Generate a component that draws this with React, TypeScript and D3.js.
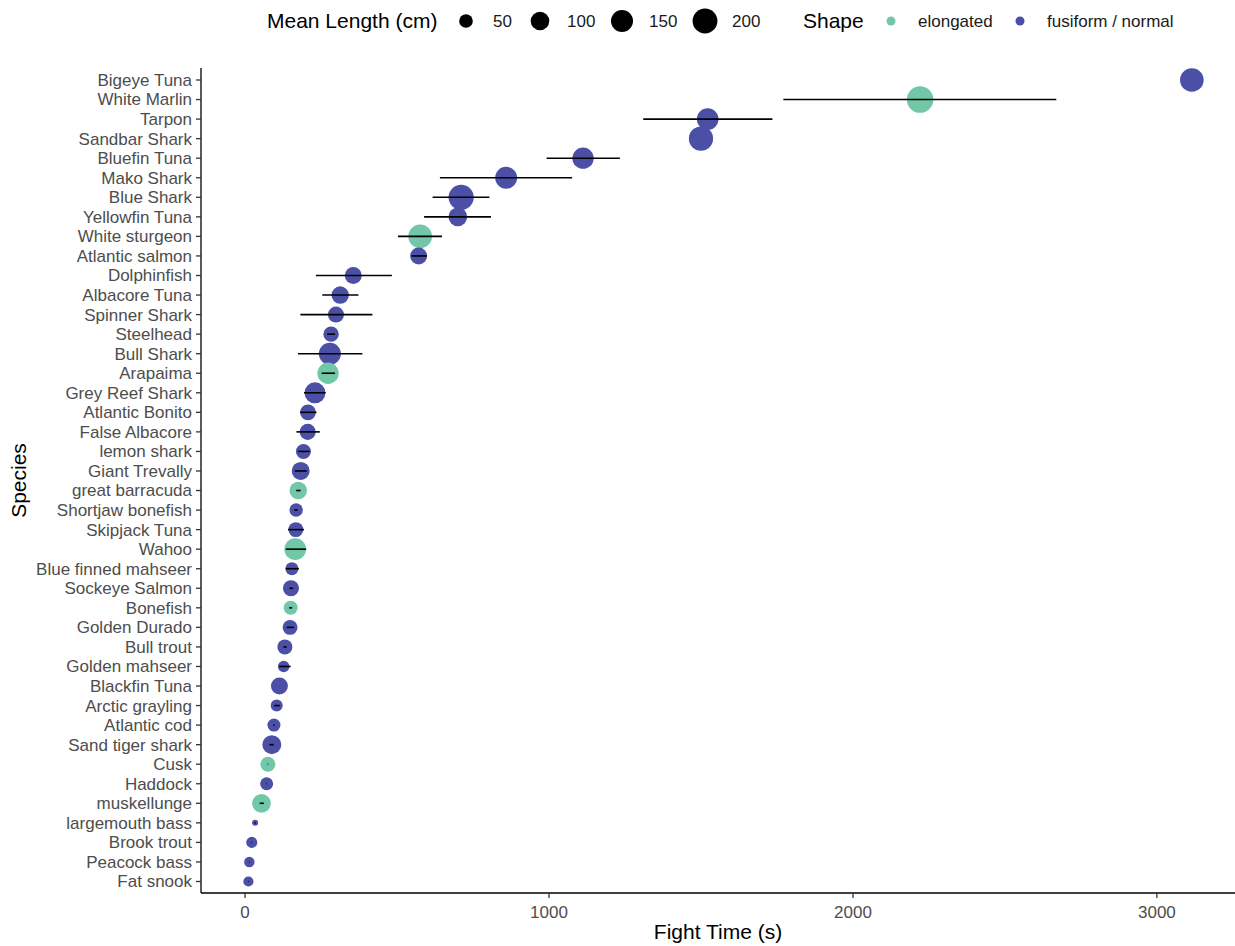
import React from "react";
import * as d3 from "d3";

const species = [
  "Bigeye Tuna", "White Marlin", "Tarpon", "Sandbar Shark", "Bluefin Tuna", "Mako Shark",
  "Blue Shark", "Yellowfin Tuna", "White sturgeon", "Atlantic salmon", "Dolphinfish",
  "Albacore Tuna", "Spinner Shark", "Steelhead", "Bull Shark", "Arapaima", "Grey Reef Shark",
  "Atlantic Bonito", "False Albacore", "lemon shark", "Giant Trevally", "great barracuda",
  "Shortjaw bonefish", "Skipjack Tuna", "Wahoo", "Blue finned mahseer", "Sockeye Salmon",
  "Bonefish", "Golden Durado", "Bull trout", "Golden mahseer", "Blackfin Tuna",
  "Arctic grayling", "Atlantic cod", "Sand tiger shark", "Cusk", "Haddock", "muskellunge",
  "largemouth bass", "Brook trout", "Peacock bass", "Fat snook",
];

const fightTime = [
  3115, 2221, 1522, 1500, 1112, 859, 711, 700, 576, 571, 356, 313, 299, 283, 279, 273, 230,
  207, 206, 192, 183, 175, 168, 167, 165, 154, 151, 150, 148, 131, 127, 113, 104, 95, 88, 75,
  71, 54, 33, 22, 14, 11,
];

const fightLow: (number | null)[] = [
  null, 1771, 1310, null, 992, 641, 617, 589, 503, 548, 233, 254, 182, 270, 174, 252, 194,
  181, 169, 175, 164, 168, 162, 141, 134, 134, 146, 145, 137, 126, 112, null, 96, 93, 80, 74,
  70, 48, 31, 21, 13, 10,
];

const fightHigh: (number | null)[] = [
  null, 2669, 1735, null, 1233, 1076, 804, 809, 648, 598, 483, 373, 419, 296, 386, 296, 265,
  235, 246, 212, 203, 183, 173, 194, 201, 177, 158, 155, 161, 137, 150, null, 114, 97, 94, 76,
  72, 62, 35, 23, 15, 12,
];

const meanLength = [
  178, 235, 145, 189, 139, 148, 207, 102, 178, 81, 81, 86, 71, 65, 150, 139, 133, 69, 71, 61,
  93, 86, 48, 60, 145, 45, 71, 53, 60, 61, 35, 81, 38, 45, 105, 60, 45, 102, 20, 33, 30, 29,
];

const shape = [
  "f", "e", "f", "f", "f", "f", "f", "f", "e", "f", "f", "f", "f", "f", "f", "e", "f", "f",
  "f", "f", "f", "e", "f", "f", "e", "f", "f", "e", "f", "f", "f", "f", "f", "f", "f", "e",
  "f", "e", "f", "f", "f", "f",
];

const xTicks = [0, 1000, 2000, 3000];
const sizeBreaks = [50, 100, 150, 200];
const shapeLabels = ["elongated", "fusiform / normal"];
const shapeKeys = ["e", "f"];

const W = 1235;
const H = 946;
const FONT = "'Liberation Sans', Arial, Helvetica, sans-serif";

export default function App() {
  const x = d3.scaleLinear().domain([-145, 3257]).range([201, 1235]);
  const y = d3.scalePoint<string>().domain(species).range([80, 881.5]);
  const lenMin = 20;
  const lenMax = 235;
  const rScale = d3.scaleSqrt().domain([0, lenMax - lenMin]).range([3.0, 13.3]);
  const r = (v: number) => rScale(Math.max(0, v - lenMin));
  const color = d3.scaleOrdinal<string, string>().domain(shapeKeys).range(["#73C7A9", "#4B4FA5"]);

  const panelTop = 68;
  const panelBottom = 893;
  const panelLeft = 201;

  const sizeLegendX = [466, 540, 622, 705];

  return (
    <svg width={W} height={H} style={{ position: "absolute", left: 0, top: 0, background: "#fff" }} fontFamily={FONT}>
      {/* points */}
      {species.map((s, i) => (
        <circle key={"p" + s} cx={x(fightTime[i])} cy={y(s)} r={r(meanLength[i])} fill={color(shape[i])} />
      ))}
      {/* error bars */}
      {species.map((s, i) =>
        fightLow[i] != null && fightHigh[i] != null ? (
          <line key={"e" + s} x1={x(fightLow[i] as number)} x2={x(fightHigh[i] as number)} y1={y(s)} y2={y(s)} stroke="#000" strokeWidth={1.6} />
        ) : null
      )}
      {/* axes */}
      <line x1={panelLeft} x2={panelLeft} y1={panelTop} y2={panelBottom} stroke="#000" strokeWidth={1.3} />
      <line x1={panelLeft} x2={W} y1={panelBottom} y2={panelBottom} stroke="#000" strokeWidth={1.3} />
      {species.map((s) => (
        <g key={"yt" + s}>
          <line x1={panelLeft - 5} x2={panelLeft} y1={y(s)} y2={y(s)} stroke="#333" strokeWidth={1.3} />
          <text x={panelLeft - 9} y={y(s)} dy="0.35em" textAnchor="end" fontSize={17} fill="#4D4D4D">{s}</text>
        </g>
      ))}
      {xTicks.map((t) => (
        <g key={"xt" + t}>
          <line x1={x(t)} x2={x(t)} y1={panelBottom} y2={panelBottom + 5} stroke="#333" strokeWidth={1.3} />
          <text x={x(t)} y={panelBottom + 19} dy="0.35em" textAnchor="middle" fontSize={17} fill="#4D4D4D">{t}</text>
        </g>
      ))}
      <text x={(panelLeft + W) / 2} y={932} dy="0.35em" textAnchor="middle" fontSize={21} fill="#000">Fight Time (s)</text>
      <text transform={`translate(19,${(panelTop + panelBottom) / 2}) rotate(-90)`} dy="0.35em" textAnchor="middle" fontSize={21} fill="#000">Species</text>

      {/* size legend */}
      <text x={267} y={21} dy="0.35em" fontSize={21} fill="#000">Mean Length (cm)</text>
      {sizeBreaks.map((b, i) => (
        <g key={"sl" + b}>
          <circle cx={sizeLegendX[i]} cy={21} r={r(b)} fill="#000" />
          <text x={sizeLegendX[i] + 27} y={21} dy="0.35em" fontSize={17} fill="#1A1A1A">{b}</text>
        </g>
      ))}
      {/* shape legend */}
      <text x={803} y={21} dy="0.35em" fontSize={21} fill="#000">Shape</text>
      {shapeKeys.map((k, i) => (
        <g key={"cl" + k}>
          <circle cx={[891, 1020][i]} cy={21} r={4.5} fill={color(k)} />
          <text x={[918, 1047][i]} y={21} dy="0.35em" fontSize={17} fill="#1A1A1A">{shapeLabels[i]}</text>
        </g>
      ))}
    </svg>
  );
}
